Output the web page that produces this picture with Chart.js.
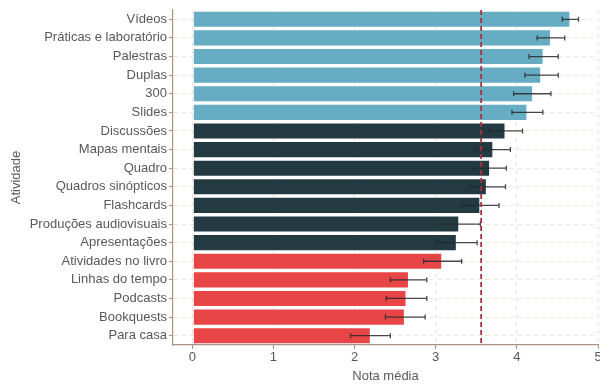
<!DOCTYPE html>
<html lang="pt">
<head>
<meta charset="UTF-8">
<title>Nota média por atividade</title>
<script src="https://cdn.jsdelivr.net/npm/chart.js"></script>
<style>
  html, body { margin: 0; padding: 0; background: #fff; }
  .wrap { width: 600px; height: 384px; position: relative; }
</style>
</head>
<body>
<div class="wrap"><canvas id="notaChart"></canvas></div>
<script>
const atividades = ["Vídeos", "Práticas e laboratório", "Palestras", "Duplas", "300", "Slides",
  "Discussões", "Mapas mentais", "Quadro", "Quadros sinópticos", "Flashcards",
  "Produções audiovisuais", "Apresentações", "Atividades no livro", "Linhas do tempo",
  "Podcasts", "Bookquests", "Para casa"];
const notaMedia = [4.66, 4.42, 4.33, 4.30, 4.20, 4.13, 3.86, 3.71, 3.67, 3.63, 3.55,
  3.29, 3.26, 3.08, 2.67, 2.64, 2.62, 2.20];
const erroMin = [4.56, 4.25, 4.15, 4.10, 3.96, 3.94, 3.66, 3.49, 3.46, 3.41, 3.33,
  3.03, 3.01, 2.85, 2.44, 2.39, 2.38, 1.95];
const erroMax = [4.76, 4.59, 4.51, 4.51, 4.42, 4.32, 4.07, 3.92, 3.87, 3.86, 3.78,
  3.55, 3.51, 3.32, 2.89, 2.89, 2.87, 2.44];
// grupo: 0 = acima, 1 = médio, 2 = abaixo
const grupo = [0, 0, 0, 0, 0, 0, 1, 1, 1, 1, 1, 1, 1, 2, 2, 2, 2, 2];
const mediaGeral = 3.56;
const xTicks = [0, 1, 2, 3, 4, 5];

const corGrupo = ['#66adc4', '#233a43', '#e84547'];
const textColor = '#595959';
const axisColor = '#a89282';
const gridColor = '#f5e4d6';
const fonte = { family: 'Liberation Sans', size: 13 };

// error bars + mean line
const extrasPlugin = {
  id: 'extras',
  afterDatasetsDraw(chart) {
    const { ctx, chartArea, scales: { x, y } } = chart;
    ctx.save();
    ctx.strokeStyle = 'rgba(40,40,40,0.85)';
    ctx.lineWidth = 1.3;
    for (let i = 0; i < atividades.length; i++) {
      const yc = y.getPixelForValue(i);
      const x0 = x.getPixelForValue(erroMin[i]);
      const x1 = x.getPixelForValue(erroMax[i]);
      ctx.beginPath();
      ctx.moveTo(x0, yc); ctx.lineTo(x1, yc);
      ctx.moveTo(x0, yc - 2.5); ctx.lineTo(x0, yc + 2.5);
      ctx.moveTo(x1, yc - 2.5); ctx.lineTo(x1, yc + 2.5);
      ctx.stroke();
    }
    const xm = x.getPixelForValue(mediaGeral);
    ctx.strokeStyle = '#a8323c';
    ctx.lineWidth = 1.8;
    ctx.setLineDash([5, 3]);
    ctx.beginPath();
    ctx.moveTo(xm, chartArea.top);
    ctx.lineTo(xm, chartArea.bottom);
    ctx.stroke();
    ctx.restore();
  }
};

new Chart(document.getElementById('notaChart'), {
  type: 'bar',
  data: {
    labels: atividades,
    datasets: [{
      data: notaMedia,
      backgroundColor: grupo.map(g => corGrupo[g]),
      borderColor: 'rgba(255,255,255,0.55)',
      borderWidth: 1,
      borderSkipped: false,
      barPercentage: 0.92,
      categoryPercentage: 1.0
    }]
  },
  options: {
    indexAxis: 'y',
    responsive: true,
    maintainAspectRatio: false,
    animation: false,
    layout: { padding: { top: 10, right: 2, bottom: 0, left: 0 } },
    plugins: { legend: { display: false }, tooltip: { enabled: false } },
    scales: {
      x: {
        type: 'linear',
        min: -0.238,
        max: 5.0,
        afterBuildTicks: s => { s.ticks = xTicks.map(v => ({ value: v })); },
        afterFit: s => { s.height = 39; s.paddingLeft = 0; s.paddingRight = 0; },
        grid: { color: gridColor, lineWidth: 1, tickLength: 4, tickColor: axisColor, drawOnChartArea: true },
        border: { display: true, color: axisColor, width: 1.2, dash: [4, 4] },
        ticks: { color: textColor, font: fonte, padding: 1, maxRotation: 0 },
        title: { display: true, text: 'Nota média', color: textColor, font: fonte, padding: { top: 0, bottom: 0 } }
      },
      y: {
        afterFit: s => { s.width = 173; },
        grid: { offset: false, color: gridColor, lineWidth: 1, tickLength: 4, tickColor: axisColor },
        border: { display: true, color: axisColor, width: 1.2, dash: [4, 4] },
        ticks: { color: textColor, font: fonte, padding: 2, autoSkip: false },
        title: { display: true, text: 'Atividade', color: textColor, font: fonte, padding: { top: 9, bottom: 2 } }
      }
    }
  },
  plugins: [extrasPlugin]
});
</script>
</body>
</html>
